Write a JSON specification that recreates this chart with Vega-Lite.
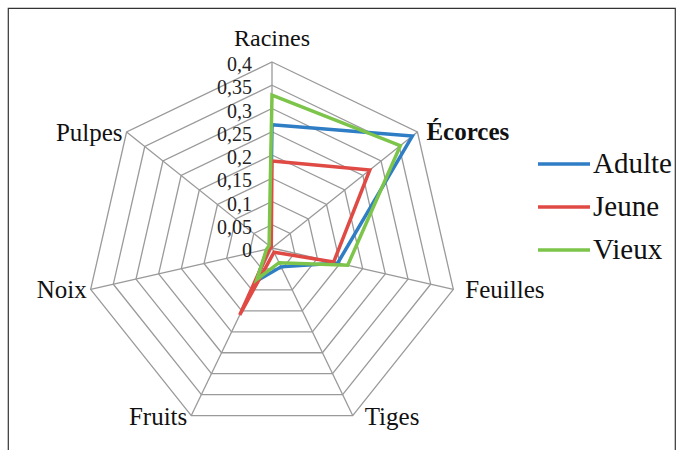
{
  "$schema": "https://vega.github.io/schema/vega-lite/v6.json",
  "width": 667,
  "height": 445,
  "autosize": "none",
  "padding": {"left": 8, "top": 8, "right": 8, "bottom": 0},
  "background": "white",
  "config": {
    "view": {"stroke": "#333333", "strokeWidth": 1.2},
    "font": "Liberation Serif",
    "legend": {"labelFont": "Liberation Serif"},
    "text": {"font": "Liberation Serif"}
  },
  "datasets": {
    "axes": [
      {"axe": "Racines"}, {"axe": "Écorces"}, {"axe": "Feuilles"}, {"axe": "Tiges"},
      {"axe": "Fruits"}, {"axe": "Noix"}, {"axe": "Pulpes"}
    ],
    "niveaux": [
      {"niveau": 0.05}, {"niveau": 0.1}, {"niveau": 0.15}, {"niveau": 0.2},
      {"niveau": 0.25}, {"niveau": 0.3}, {"niveau": 0.35}, {"niveau": 0.4}
    ],
    "graduations": [
      {"niveau": 0}, {"niveau": 0.05}, {"niveau": 0.1}, {"niveau": 0.15}, {"niveau": 0.2},
      {"niveau": 0.25}, {"niveau": 0.3}, {"niveau": 0.35}, {"niveau": 0.4}
    ],
    "mesures": [
      {"serie": "Adulte", "axe": "Racines", "valeur": 0.265},
      {"serie": "Adulte", "axe": "Écorces", "valeur": 0.386},
      {"serie": "Adulte", "axe": "Feuilles", "valeur": 0.145},
      {"serie": "Adulte", "axe": "Tiges", "valeur": 0.045},
      {"serie": "Adulte", "axe": "Fruits", "valeur": 0.08},
      {"serie": "Adulte", "axe": "Noix", "valeur": 0.01},
      {"serie": "Adulte", "axe": "Pulpes", "valeur": 0.005},
      {"serie": "Jeune", "axe": "Racines", "valeur": 0.187},
      {"serie": "Jeune", "axe": "Écorces", "valeur": 0.269},
      {"serie": "Jeune", "axe": "Feuilles", "valeur": 0.136},
      {"serie": "Jeune", "axe": "Tiges", "valeur": 0.01},
      {"serie": "Jeune", "axe": "Fruits", "valeur": 0.16},
      {"serie": "Jeune", "axe": "Noix", "valeur": 0.005},
      {"serie": "Jeune", "axe": "Pulpes", "valeur": 0.002},
      {"serie": "Vieux", "axe": "Racines", "valeur": 0.329},
      {"serie": "Vieux", "axe": "Écorces", "valeur": 0.353},
      {"serie": "Vieux", "axe": "Feuilles", "valeur": 0.167},
      {"serie": "Vieux", "axe": "Tiges", "valeur": 0.035},
      {"serie": "Vieux", "axe": "Fruits", "valeur": 0.075},
      {"serie": "Vieux", "axe": "Noix", "valeur": 0.012},
      {"serie": "Vieux", "axe": "Pulpes", "valeur": 0.008}
    ]
  },
  "layer": [
    {
      "data": {"name": "niveaux"},
      "transform": [
        {"calculate": "['Racines','Écorces','Feuilles','Tiges','Fruits','Noix','Pulpes']", "as": "liste"},
        {"flatten": ["liste"], "as": ["axe"]},
        {"calculate": "indexof(['Racines','Écorces','Feuilles','Tiges','Fruits','Noix','Pulpes'], datum.axe)", "as": "idx"},
        {"calculate": "datum.niveau * sin(datum.idx * 2 * PI / 7)", "as": "px"},
        {"calculate": "datum.niveau * cos(datum.idx * 2 * PI / 7)", "as": "py"}
      ],
      "mark": {"type": "line", "interpolate": "linear-closed", "stroke": "#9a9a9a", "strokeWidth": 1.3},
      "encoding": {
        "x": {"field": "px", "type": "quantitative", "scale": {"domain": [-0.567742, 0.866667], "nice": false, "zero": false}, "axis": null},
        "y": {"field": "py", "type": "quantitative", "scale": {"domain": [-0.44086, 0.516129], "nice": false, "zero": false}, "axis": null},
        "detail": {"field": "niveau"},
        "order": {"field": "idx"}
      }
    },
    {
      "data": {"name": "axes"},
      "transform": [
        {"calculate": "indexof(['Racines','Écorces','Feuilles','Tiges','Fruits','Noix','Pulpes'], datum.axe)", "as": "idx"},
        {"calculate": "0.4 * sin(datum.idx * 2 * PI / 7)", "as": "px"},
        {"calculate": "0.4 * cos(datum.idx * 2 * PI / 7)", "as": "py"}
      ],
      "mark": {"type": "rule", "stroke": "#9a9a9a", "strokeWidth": 1.3},
      "encoding": {
        "x": {"field": "px", "type": "quantitative"},
        "y": {"field": "py", "type": "quantitative"},
        "x2": {"datum": 0},
        "y2": {"datum": 0}
      }
    },
    {
      "data": {"name": "graduations"},
      "transform": [
        {"calculate": "replace(format(datum.niveau, ''), '.', ',')", "as": "etiquette"}
      ],
      "mark": {"type": "text", "align": "right", "baseline": "middle", "dx": -20, "dy": 3, "fontSize": 20, "font": "Liberation Serif", "fill": "#222222"},
      "encoding": {
        "x": {"datum": 0, "type": "quantitative"},
        "y": {"field": "niveau", "type": "quantitative"},
        "text": {"field": "etiquette"}
      }
    },
    {
      "data": {"name": "mesures"},
      "transform": [
        {"calculate": "indexof(['Racines','Écorces','Feuilles','Tiges','Fruits','Noix','Pulpes'], datum.axe)", "as": "idx"},
        {"calculate": "datum.valeur * sin(datum.idx * 2 * PI / 7)", "as": "px"},
        {"calculate": "datum.valeur * cos(datum.idx * 2 * PI / 7)", "as": "py"}
      ],
      "mark": {"type": "line", "interpolate": "linear-closed", "strokeWidth": 3.5, "strokeJoin": "miter"},
      "encoding": {
        "x": {"field": "px", "type": "quantitative"},
        "y": {"field": "py", "type": "quantitative"},
        "order": {"field": "idx"},
        "color": {
          "field": "serie",
          "type": "nominal",
          "scale": {"domain": ["Adulte", "Jeune", "Vieux"], "range": ["#2e7dc5", "#e04a45", "#7cc44a"]},
          "legend": {
            "title": null,
            "orient": "none",
            "legendX": 528,
            "legendY": 128,
            "symbolType": "stroke",
            "symbolSize": 2704,
            "symbolStrokeWidth": 3.5,
            "labelFont": "Liberation Serif",
            "labelFontSize": 29,
            "labelColor": "#111111",
            "labelOffset": 1,
            "rowPadding": -7
          }
        }
      }
    },
    {
      "data": {"name": "axes"},
      "transform": [
        {"filter": "datum.axe === 'Racines'"},
        {"calculate": "0", "as": "px"},
        {"calculate": "0.4", "as": "py"}
      ],
      "mark": {"type": "text", "align": "center", "baseline": "alphabetic", "dy": -16, "fontSize": 24, "font": "Liberation Serif", "fill": "#111111"},
      "encoding": {
        "x": {"field": "px", "type": "quantitative"},
        "y": {"field": "py", "type": "quantitative"},
        "text": {"field": "axe"}
      }
    },
    {
      "data": {"name": "axes"},
      "transform": [
        {"filter": "datum.axe === 'Écorces'"},
        {"calculate": "indexof(['Racines','Écorces','Feuilles','Tiges','Fruits','Noix','Pulpes'], datum.axe)", "as": "idx"},
        {"calculate": "0.4 * sin(datum.idx * 2 * PI / 7)", "as": "px"},
        {"calculate": "0.4 * cos(datum.idx * 2 * PI / 7)", "as": "py"}
      ],
      "mark": {"type": "text", "align": "left", "baseline": "middle", "dx": 9, "dy": 0, "fontSize": 25, "fontWeight": "bold", "font": "Liberation Serif", "fill": "#111111"},
      "encoding": {
        "x": {"field": "px", "type": "quantitative"},
        "y": {"field": "py", "type": "quantitative"},
        "text": {"field": "axe"}
      }
    },
    {
      "data": {"name": "axes"},
      "transform": [
        {"filter": "datum.axe === 'Feuilles' || datum.axe === 'Tiges'"},
        {"calculate": "indexof(['Racines','Écorces','Feuilles','Tiges','Fruits','Noix','Pulpes'], datum.axe)", "as": "idx"},
        {"calculate": "0.4 * sin(datum.idx * 2 * PI / 7)", "as": "px"},
        {"calculate": "0.4 * cos(datum.idx * 2 * PI / 7)", "as": "py"}
      ],
      "mark": {"type": "text", "align": "left", "baseline": "middle", "dx": 12, "dy": 1, "fontSize": 25, "font": "Liberation Serif", "fill": "#111111"},
      "encoding": {
        "x": {"field": "px", "type": "quantitative"},
        "y": {"field": "py", "type": "quantitative"},
        "text": {"field": "axe"}
      }
    },
    {
      "data": {"name": "axes"},
      "transform": [
        {"filter": "datum.axe === 'Fruits' || datum.axe === 'Noix' || datum.axe === 'Pulpes'"},
        {"calculate": "indexof(['Racines','Écorces','Feuilles','Tiges','Fruits','Noix','Pulpes'], datum.axe)", "as": "idx"},
        {"calculate": "0.4 * sin(datum.idx * 2 * PI / 7)", "as": "px"},
        {"calculate": "0.4 * cos(datum.idx * 2 * PI / 7)", "as": "py"}
      ],
      "mark": {"type": "text", "align": "right", "baseline": "middle", "dx": -4, "dy": 1, "fontSize": 25, "font": "Liberation Serif", "fill": "#111111"},
      "encoding": {
        "x": {"field": "px", "type": "quantitative"},
        "y": {"field": "py", "type": "quantitative"},
        "text": {"field": "axe"}
      }
    }
  ]
}
